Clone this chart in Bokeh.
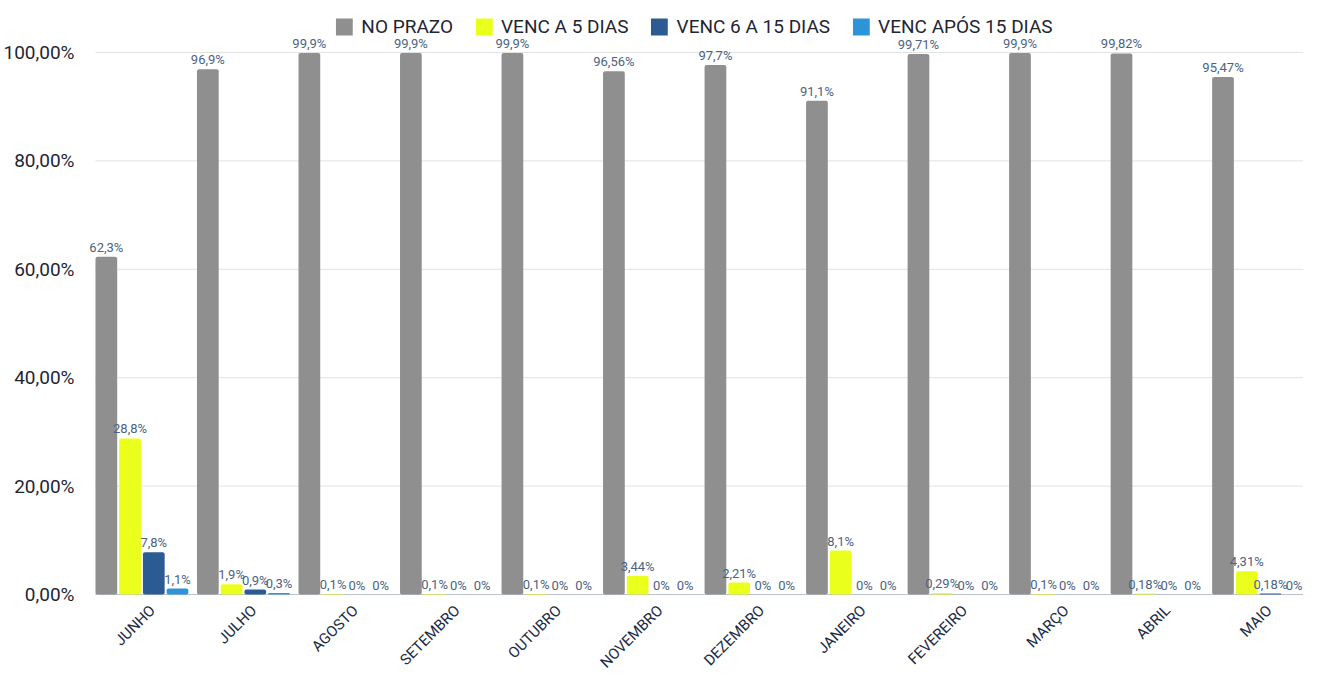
import math
from bokeh.plotting import figure
from bokeh.models import (ColumnDataSource, FixedTicker, Legend, LegendItem,
                          LabelSet, Range1d)
from bokeh.transform import dodge
from bokeh.core.properties import value
from bokeh.embed import file_html
from bokeh.resources import INLINE

months = ["JUNHO", "JULHO", "AGOSTO", "SETEMBRO", "OUTUBRO", "NOVEMBRO",
          "DEZEMBRO", "JANEIRO", "FEVEREIRO", "MARÇO", "ABRIL", "MAIO"]
series_names = ["NO PRAZO", "VENC A 5 DIAS", "VENC 6 A 15 DIAS", "VENC APÓS 15 DIAS"]
no_prazo = [62.3, 96.9, 99.9, 99.9, 99.9, 96.56, 97.7, 91.1, 99.71, 99.9, 99.82, 95.47]
venc_5 = [28.8, 1.9, 0.1, 0.1, 0.1, 3.44, 2.21, 8.1, 0.29, 0.1, 0.18, 4.31]
venc_6_15 = [7.8, 0.9, 0, 0, 0, 0, 0, 0, 0, 0, 0, 0.18]
venc_apos_15 = [1.1, 0.3, 0, 0, 0, 0, 0, 0, 0, 0, 0, 0]
y_ticks = [0, 20, 40, 60, 80, 100]

colors = ["#8f8f8f", "#ebff1c", "#2c5a93", "#2f93d7"]
FONT = "Roboto"

def fmt(v):
    return ("%g" % v).replace(".", ",") + "%"

series = [no_prazo, venc_5, venc_6_15, venc_apos_15]
idx = list(range(len(months)))

X0, X1 = -0.118, 11.9
p = figure(width=1303, height=672, x_range=Range1d(X0, X1), y_range=Range1d(-14.39, 109.59),
           output_backend="svg", toolbar_location=None,
           min_border_left=83, min_border_right=0, min_border_top=0, min_border_bottom=0)
p.xaxis.visible = False

# horizontal grid lines and baseline, from the tick values
grid_x0 = [0] * len(y_ticks)
grid_x1 = [X1] * len(y_ticks)
p.segment(x0=grid_x0, y0=y_ticks, x1=grid_x1, y1=y_ticks,
          line_color="#e2e2e2", line_width=1)
p.segment(x0=[0], y0=[0], x1=[X1], y1=[0], line_color="#b9c3cf", line_width=1.2)

pitch = 0.2337
bw = 0.214
offsets = [0.107 + k * pitch for k in range(4)]

items = []
for k, (name, vals) in enumerate(zip(series_names, series)):
    src = ColumnDataSource(dict(i=idx, v=vals, lbl=[fmt(v) for v in vals]))
    r = p.vbar(x=dodge("i", offsets[k]), top="v", width=bw, bottom=0,
               source=src, fill_color=colors[k], line_color=None, border_radius=2)
    p.add_layout(LabelSet(x=dodge("i", offsets[k]), y="v", text="lbl", source=src,
                          text_align="center", text_baseline="bottom", y_offset=2,
                          text_font=value(FONT), text_font_size="13px",
                          text_color="#4b6382"))
    items.append(LegendItem(label=name, renderers=[r]))

# month labels below the baseline
msrc = ColumnDataSource(dict(i=idx, m=months, zero=[0] * len(months)))
p.add_layout(LabelSet(x=dodge("i", 0.5), y="zero", text="m", source=msrc,
                      angle=math.pi / 4, text_align="right", text_baseline="top",
                      y_offset=-7, text_font=value(FONT), text_font_size="15px",
                      text_color="#1c2b45"))

legend = Legend(items=items, orientation="horizontal", location="top_center",
                glyph_width=21, glyph_height=21, label_standoff=7, spacing=20,
                label_text_font=FONT, label_text_font_size="19px", label_text_color="#1f2533",
                background_fill_alpha=0, border_line_color=None, padding=0, margin=15)
p.add_layout(legend, "center")

p.yaxis.ticker = FixedTicker(ticks=y_ticks)
p.yaxis.major_label_overrides = {t: "%d,00%%" % t for t in y_ticks}
p.yaxis.major_label_text_font = FONT
p.yaxis.major_label_text_font_size = "19px"
p.yaxis.major_label_text_color = "#1f2533"
p.yaxis.axis_line_color = None
p.yaxis.major_tick_line_color = None
p.yaxis.minor_tick_line_color = None
p.yaxis.major_label_standoff = 3

p.xgrid.grid_line_color = None
p.ygrid.grid_line_color = None
p.outline_line_color = None

open("out.html", "w").write(file_html(p, INLINE))
